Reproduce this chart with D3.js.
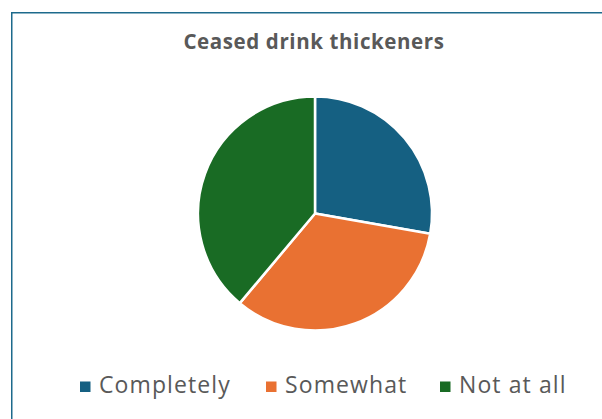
<!DOCTYPE html>
<html>
<head>
<meta charset="utf-8">
<script src="https://cdn.jsdelivr.net/npm/d3@7"></script>
<style>
  html, body { margin: 0; padding: 0; background: #ffffff; }
  svg { display: block; }
</style>
</head>
<body>
<svg id="chart" width="602" height="419"></svg>
<script>
// Response counts for each category
const categories = ["Completely", "Somewhat", "Not at all"];
const values = [5, 6, 7];
const colors = ["#156082", "#E97132", "#196B24"];
const title = "Ceased drink thickeners";

const svg = d3.select("#chart");
const W = 602, H = 419;

// Chart frame (open on the right and bottom, as it runs past the page edge)
svg.append("path")
  .attr("d", `M11.75,${H + 5} L11.75,12.75 L${W + 5},12.75`)
  .attr("fill", "none")
  .attr("stroke", "#1d6a8c")
  .attr("stroke-width", 1.5);

// Title
svg.append("text")
  .attr("x", 314)
  .attr("y", 49)
  .attr("text-anchor", "middle")
  .attr("font-family", "'Open Sans', sans-serif")
  .attr("font-weight", "bold")
  .attr("font-size", 20.5)
  .attr("letter-spacing", 0.6)
  .attr("fill", "#595959")
  .text(title);

// Pie
const cx = 315, cy = 213.5, r = 117;
const pie = d3.pie().sort(null).value(d => d.value);
const arc = d3.arc().innerRadius(0).outerRadius(r);
const data = categories.map((c, i) => ({ name: c, value: values[i], color: colors[i] }));

svg.append("g")
  .attr("transform", `translate(${cx},${cy})`)
  .selectAll("path")
  .data(pie(data))
  .join("path")
  .attr("d", arc)
  .attr("fill", d => d.data.color)
  .attr("stroke", "#ffffff")
  .attr("stroke-width", 2.5)
  .attr("stroke-linejoin", "round");

// Legend
const legendX = [80, 266, 440];
const legend = svg.append("g");
data.forEach((d, i) => {
  legend.append("rect")
    .attr("x", legendX[i])
    .attr("y", 381.5)
    .attr("width", 10.5)
    .attr("height", 10.5)
    .attr("fill", d.color);
  legend.append("text")
    .attr("x", legendX[i] + 19)
    .attr("y", 393)
    .attr("font-family", "'Open Sans', sans-serif")
    .attr("font-size", 23)
    .attr("letter-spacing", 1.1)
    .attr("fill", "#595959")
    .text(d.name);
});
</script>
</body>
</html>
